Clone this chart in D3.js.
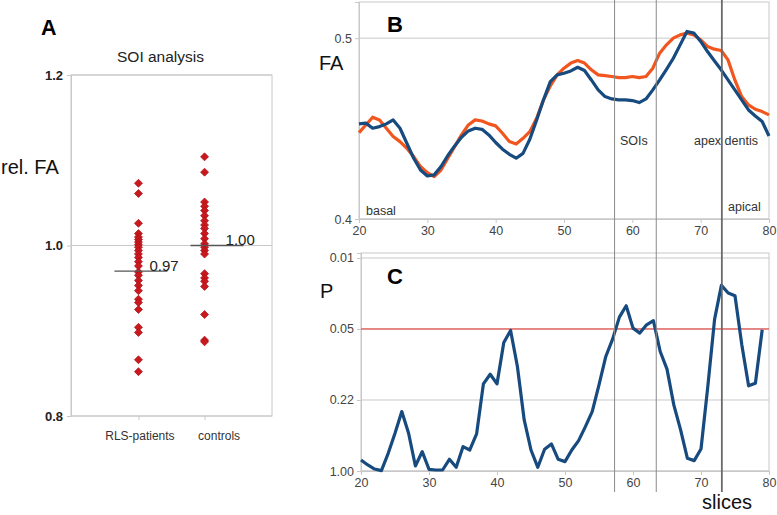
<!DOCTYPE html>
<html><head><meta charset="utf-8">
<script src="https://cdn.jsdelivr.net/npm/d3@7"></script>
<style>
html,body{margin:0;padding:0;background:#fff;}
svg{display:block;font-family:"Liberation Sans",Arial,sans-serif;}
</style></head>
<body>
<svg id="c" width="777" height="515"></svg>
<script>
// ---------- DATA ----------
const groups = ["RLS-patients", "controls"];
const rlsValues = [1.073, 1.061, 1.026, 1.014, 1.010, 1.007, 1.004, 1.001, 0.998, 0.994, 0.990, 0.986, 0.981, 0.976, 0.969, 0.965, 0.959, 0.953, 0.947, 0.937, 0.933, 0.925, 0.904, 0.898, 0.866, 0.852];
const controlValues = [1.104, 1.086, 1.051, 1.046, 1.041, 1.035, 1.029, 1.024, 1.020, 1.014, 1.008, 1.002, 0.998, 0.994, 0.990, 0.967, 0.962, 0.958, 0.952, 0.919, 0.889, 0.887];
const groupMeans = [0.97, 1.00];
const aTicks = [0.8, 1.0, 1.2];

const slices = d3.range(20, 81);
const faRLS = [0.4478,0.4520,0.4563,0.4548,0.4502,0.4456,0.4428,0.4391,0.4345,0.4290,0.4256,0.4234,0.4271,0.4336,0.4400,0.4465,0.4520,0.4548,0.4542,0.4526,0.4515,0.4474,0.4428,0.4415,0.4446,0.4483,0.4557,0.4659,0.4736,0.4797,0.4834,0.4862,0.4876,0.4862,0.4825,0.4797,0.4793,0.4788,0.4782,0.4782,0.4788,0.4782,0.4788,0.4834,0.4917,0.4963,0.5000,0.5018,0.5028,0.5018,0.4991,0.4954,0.4939,0.4932,0.4880,0.4769,0.4677,0.4631,0.4607,0.4594,0.4576];
const faControls = [0.4526,0.4530,0.4502,0.4511,0.4526,0.4548,0.4502,0.4419,0.4336,0.4271,0.4238,0.4244,0.4290,0.4351,0.4404,0.4452,0.4487,0.4502,0.4496,0.4465,0.4423,0.4386,0.4358,0.4336,0.4363,0.4441,0.4548,0.4659,0.4760,0.4797,0.4806,0.4819,0.4839,0.4821,0.4769,0.4714,0.4677,0.4664,0.4659,0.4659,0.4655,0.4644,0.4664,0.4714,0.4769,0.4828,0.4889,0.4963,0.5037,0.5028,0.4982,0.4926,0.4875,0.4825,0.4769,0.4714,0.4659,0.4603,0.4570,0.4539,0.4459];
const faTicks = [0.4, 0.5];

const pSlices = d3.range(20, 80);
// position on the P axis: 0 = 1.00, 1 = 0.22, 2 = 0.05, 3 = 0.01
const pLevel = [0.155,0.085,0.028,0.005,0.249,0.531,0.837,0.531,0.071,0.273,0.024,0.014,0.014,0.165,0.052,0.343,0.296,0.522,1.227,1.363,1.227,1.810,1.979,1.472,0.719,0.296,0.052,0.306,0.381,0.165,0.132,0.296,0.428,0.625,0.837,1.213,1.613,1.857,2.167,2.327,2.012,1.942,2.059,2.116,1.683,1.434,0.931,0.578,0.179,0.146,0.310,1.189,2.139,2.614,2.506,2.468,1.777,1.199,1.236,1.989];
const pTickPos = [0, 1, 2, 3];
const pTickLabels = ["1.00", "0.22", "0.05", "0.01"];
const pThresholdLevel = 2;
const xTicks = [20, 30, 40, 50, 60, 70, 80];
const markerSlices = [57.4, 63.5, 73.1];

// ---------- DRAW ----------
const svg = d3.select("#c");
const grid = "#c8c8c8", tickCol = "#444";

// ===== Panel A =====
const A = {l:71, r:272, t:75, b:416};
const xA = d3.scalePoint().domain(groups).range([A.l, A.r]).padding(1.02);
const yA = d3.scaleLinear().domain([0.8, 1.2]).range([A.b, A.t]);
const gA = svg.append("g");
gA.append("rect").attr("x",A.l).attr("y",A.t).attr("width",A.r-A.l).attr("height",A.b-A.t)
  .attr("fill","none").attr("stroke",grid);
gA.selectAll("line.grid").data(aTicks).join("line")
  .attr("x1",A.l).attr("x2",A.r).attr("y1",d=>yA(d)).attr("y2",d=>yA(d)).attr("stroke",grid);
const axA = gA.append("g").attr("transform",`translate(${A.l},0)`)
  .call(d3.axisLeft(yA).tickValues(aTicks).tickFormat(d3.format(".1f")).tickSize(4).tickPadding(4));
axA.select(".domain").attr("stroke",grid);
axA.selectAll(".tick line").attr("stroke",grid);
axA.selectAll("text").attr("font-size",13).attr("font-weight","bold").attr("fill","#222").attr("font-family","Liberation Sans");
const axAx = gA.append("g").attr("transform",`translate(0,${A.b})`)
  .call(d3.axisBottom(xA).tickSize(4).tickPadding(11));
axAx.select(".domain").remove();
axAx.selectAll(".tick line").attr("stroke",grid);
axAx.selectAll("text").attr("font-size",12).attr("fill","#333").attr("font-family","Liberation Sans")
  .attr("dx",(d,i)=>i===1?14:1);

gA.append("text").attr("x",160.5).attr("y",62).attr("text-anchor","middle")
  .attr("font-size",15.5).attr("fill","#222").text("SOI analysis");
gA.append("text").attr("x",41).attr("y",35).attr("font-size",21.5).attr("font-weight","bold").text("A");
gA.append("text").attr("x",1).attr("y",174).attr("font-size",20).attr("fill","#111").text("rel. FA");

const diamond = "M0,-4L4,0L0,4L-4,0Z";
[rlsValues, controlValues].forEach((vals,gi)=>{
  gA.append("g").selectAll("path").data(vals).join("path")
    .attr("d",diamond)
    .attr("transform",d=>`translate(${xA(groups[gi])},${yA(d)})`)
    .attr("fill","#c9191f").attr("stroke","#a50f14").attr("stroke-width",0.7)
    .attr("stroke-linejoin","round");
});
const meanSpan = [[-24,29],[-14,39]];
groupMeans.forEach((m,i)=>{
  const cx = xA(groups[i]);
  gA.append("line").attr("x1",cx+meanSpan[i][0]).attr("x2",cx+meanSpan[i][1])
    .attr("y1",yA(m)).attr("y2",yA(m)).attr("stroke","#555").attr("stroke-width",1.3);
  gA.append("text").attr("x",cx+meanSpan[i][0]+35).attr("y",yA(m)-0.5)
    .attr("font-size",15).attr("fill","#222").text(d3.format(".2f")(m));
});

// ===== Panel B =====
const B = {l:359, r:769, t:2, b:219};
const xB = d3.scaleLinear().domain([20,80]).range([B.l,B.r]);
const yB = d3.scaleLinear().domain([0.4,0.52]).range([B.b,B.t]);
const gB = svg.append("g");
gB.append("rect").attr("x",B.l).attr("y",B.t).attr("width",B.r-B.l).attr("height",B.b-B.t)
  .attr("fill","none").attr("stroke",grid);
gB.selectAll("line.grid").data(faTicks).join("line")
  .attr("x1",B.l).attr("x2",B.r).attr("y1",d=>yB(d)).attr("y2",d=>yB(d)).attr("stroke",grid);
const axBy = gB.append("g").attr("transform",`translate(${B.l},0)`)
  .call(d3.axisLeft(yB).tickValues(faTicks).tickFormat(d3.format(".1f")).tickSize(4).tickPadding(3));
const axBx = gB.append("g").attr("transform",`translate(0,${B.b})`)
  .call(d3.axisBottom(xB).tickValues(xTicks).tickFormat(d3.format("d")).tickSize(4).tickPadding(3));

// ===== Panel C =====
const C = {l:361, r:769, t:253, b:471};
const xC = d3.scaleLinear().domain([20,80]).range([C.l,C.r]);
const yC = d3.scaleLinear().domain([0,3.07]).range([C.b,C.t]);
const gC = svg.append("g");
gC.append("rect").attr("x",C.l).attr("y",C.t).attr("width",C.r-C.l).attr("height",C.b-C.t)
  .attr("fill","none").attr("stroke",grid);
gC.selectAll("line.grid").data(pTickPos).join("line")
  .attr("x1",C.l).attr("x2",C.r).attr("y1",d=>yC(d)).attr("y2",d=>yC(d)).attr("stroke",grid);
const axCy = gC.append("g").attr("transform",`translate(${C.l},0)`)
  .call(d3.axisLeft(yC).tickValues(pTickPos).tickFormat((d,i)=>pTickLabels[i]).tickSize(4).tickPadding(3));
const axCx = gC.append("g").attr("transform",`translate(0,${C.b})`)
  .call(d3.axisBottom(xC).tickValues(xTicks).tickFormat(d3.format("d")).tickSize(4).tickPadding(3));

[axBy,axBx,axCy,axCx].forEach(ax=>{
  ax.select(".domain").attr("stroke",grid);
  ax.selectAll(".tick line").attr("stroke",grid);
  ax.selectAll("text").attr("font-size",12.5).attr("fill",tickCol).attr("font-family","Liberation Sans");
});

// threshold line
gC.append("line").attr("x1",C.l).attr("x2",C.r).attr("y1",yC(pThresholdLevel)).attr("y2",yC(pThresholdLevel))
  .attr("stroke","#e8322a").attr("stroke-width",1);

// marker vertical lines
svg.append("g").selectAll("line").data(markerSlices).join("line")
  .attr("x1",d=>xB(d)).attr("x2",d=>xB(d)).attr("y1",0).attr("y2",492)
  .attr("stroke",(d,i)=>i===2?"#6a6a6a":"#8a8a8a").attr("stroke-width",(d,i)=>i===2?1.8:1);

// B lines
const lineB = d3.line().x((d,i)=>xB(slices[i])).y(d=>yB(d)).curve(d3.curveLinear);
gB.append("path").attr("d",lineB(faRLS)).attr("fill","none").attr("stroke","#f0561e")
  .attr("stroke-width",3.2).attr("stroke-linejoin","round");
gB.append("path").attr("d",lineB(faControls)).attr("fill","none").attr("stroke","#174a7e")
  .attr("stroke-width",3.2).attr("stroke-linejoin","round");

// C line
const lineC = d3.line().x((d,i)=>xC(pSlices[i])).y(d=>yC(d));
gC.append("path").attr("d",lineC(pLevel)).attr("fill","none").attr("stroke","#174a7e")
  .attr("stroke-width",3.2).attr("stroke-linejoin","round");

// B annotations
gB.append("text").attr("x",387).attr("y",32).attr("font-size",22).attr("font-weight","bold").text("B");
gB.append("text").attr("x",319).attr("y",70).attr("font-size",20).attr("fill","#111").text("FA");
const ann = {fs:12.5, fill:"#333"};
gB.append("text").attr("x",620).attr("y",145).attr("font-size",ann.fs).attr("fill",ann.fill).text("SOIs");
gB.append("text").attr("x",694).attr("y",145).attr("font-size",ann.fs).attr("fill",ann.fill).text("apex dentis");
gB.append("text").attr("x",366).attr("y",215).attr("font-size",ann.fs).attr("fill",ann.fill).text("basal");
gB.append("text").attr("x",728).attr("y",211).attr("font-size",ann.fs).attr("fill",ann.fill).text("apical");

// C annotations
gC.append("text").attr("x",387).attr("y",284).attr("font-size",22).attr("font-weight","bold").text("C");
gC.append("text").attr("x",320).attr("y",298).attr("font-size",20).attr("fill","#111").text("P");
svg.append("text").attr("x",702).attr("y",509).attr("font-size",20).attr("fill","#111").text("slices");
</script>
</body></html>
